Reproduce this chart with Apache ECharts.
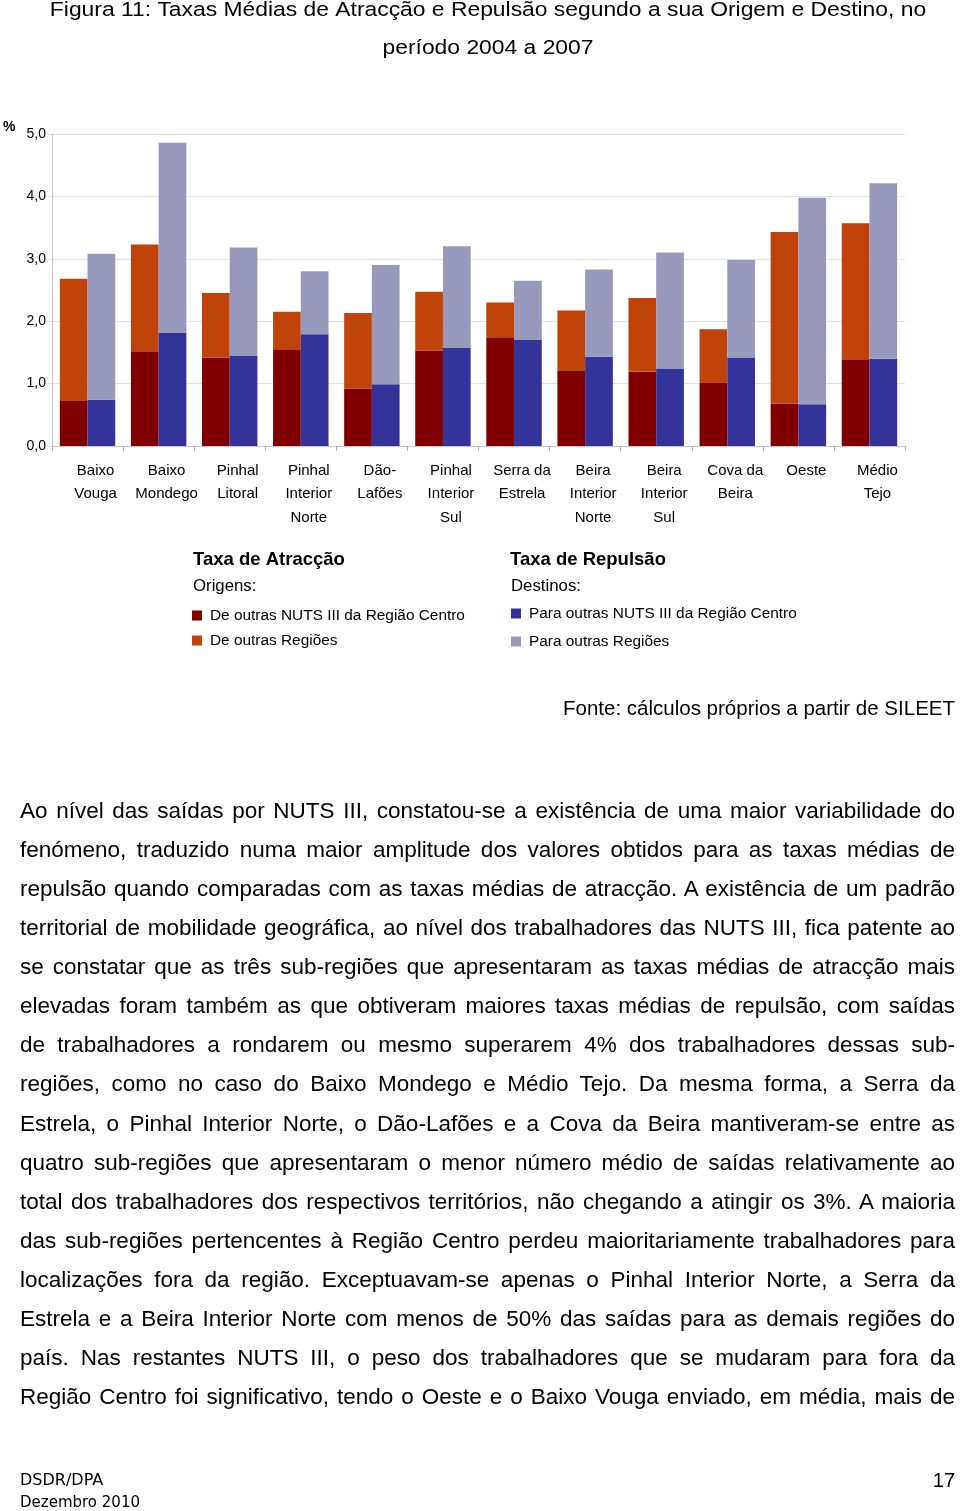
<!DOCTYPE html>
<html>
<head>
<meta charset="utf-8">
<script src="https://cdn.jsdelivr.net/npm/echarts@6/dist/echarts.min.js"></script>
<style>
  html, body { margin: 0; padding: 0; background: #fff; }
  #wrap { position: relative; width: 960px; height: 1511px; }
  #chart { position: absolute; left: 0; top: 0; width: 960px; height: 1511px; }
  .pl { position: absolute; left: 20px; width: 935px; height: 39px; line-height: 39px;
        font-family: "Liberation Sans", Arial, sans-serif; font-size: 22.5px; color: #000;
        white-space: nowrap; text-align: justify; text-align-last: justify; }
</style>
</head>
<body>
<div id="wrap">
  <div id="chart"></div>
  <div id="para"></div>
</div>
<script>
// ---- Data ----
const categories = ['Baixo\nVouga','Baixo\nMondego','Pinhal\nLitoral','Pinhal\nInterior\nNorte','Dão-\nLafões','Pinhal\nInterior\nSul','Serra da\nEstrela','Beira\nInterior\nNorte','Beira\nInterior\nSul','Cova da\nBeira','Oeste','Médio\nTejo'];
const atrCentro = [0.72,1.52,1.42,1.54,0.92,1.53,1.73,1.20,1.19,1.01,0.68,1.39];
const atrOutras = [1.96,1.71,1.03,0.61,1.21,0.94,0.57,0.97,1.18,0.86,2.75,2.18];
const repCentro = [0.74,1.82,1.45,1.79,0.99,1.57,1.70,1.43,1.24,1.42,0.67,1.40];
const repOutras = [2.34,3.04,1.73,1.01,1.91,1.63,0.95,1.40,1.86,1.56,3.31,2.81];
const seriesNames = ['De outras NUTS III da Região Centro','De outras Regiões','Para outras NUTS III da Região Centro','Para outras Regiões'];
const yTicks = [0,1,2,3,4,5];

const titleLines = ['Figura 11: Taxas Médias de Atracção e Repulsão segundo a sua Origem e Destino, no','período 2004 a 2007'];
const paragraphLines = [
 'Ao nível das saídas por NUTS III, constatou-se a existência de uma maior variabilidade do',
 'fenómeno, traduzido numa maior amplitude dos valores obtidos para as taxas médias de',
 'repulsão quando comparadas com as taxas médias de atracção. A existência de um padrão',
 'territorial de mobilidade geográfica, ao nível dos trabalhadores das NUTS III, fica patente ao',
 'se constatar que as três sub-regiões que apresentaram as taxas médias de atracção mais',
 'elevadas foram também as que obtiveram maiores taxas médias de repulsão, com saídas',
 'de trabalhadores a rondarem ou mesmo superarem 4% dos trabalhadores dessas sub-',
 'regiões, como no caso do Baixo Mondego e Médio Tejo. Da mesma forma, a Serra da',
 'Estrela, o Pinhal Interior Norte, o Dão-Lafões e a Cova da Beira mantiveram-se entre as',
 'quatro sub-regiões que apresentaram o menor número médio de saídas relativamente ao',
 'total dos trabalhadores dos respectivos territórios, não chegando a atingir os 3%. A maioria',
 'das sub-regiões pertencentes à Região Centro perdeu maioritariamente trabalhadores para',
 'localizações fora da região. Exceptuavam-se apenas o Pinhal Interior Norte, a Serra da',
 'Estrela e a Beira Interior Norte com menos de 50% das saídas para as demais regiões do',
 'país. Nas restantes NUTS III, o peso dos trabalhadores que se mudaram para fora da',
 'Região Centro foi significativo, tendo o Oeste e o Baixo Vouga enviado, em média, mais de'
];

// ---- Paragraph (HTML text) ----
const para = document.getElementById('para');
paragraphLines.forEach((t, i) => {
  const d = document.createElement('div');
  d.className = 'pl';
  d.style.top = (810 + i * 39.13 - 19.5) + 'px';
  d.textContent = t;
  para.appendChild(d);
});

// ---- Chart ----
const FONT = '"Liberation Sans", Arial, sans-serif';
const colors = ['#800000', '#c0430a', '#333399', '#9999bb'];
const chart = echarts.init(document.getElementById('chart'), null, { renderer: 'canvas' });

function barSeries(name, data, stack, color) {
  return {
    name, type: 'bar', stack, data,
    barGap: '0%', barCategoryGap: '22%',
    itemStyle: { color },
    emphasis: { disabled: true },
    animation: false
  };
}

const option = {
  animation: false,
  textStyle: { fontFamily: FONT },
  grid: { left: 52, right: 55, top: 134, bottom: 1065, containLabel: false },
  xAxis: {
    type: 'category',
    data: categories,
    axisLine: { show: true, lineStyle: { color: '#c8c8c8', width: 1 } },
    axisTick: { show: true, length: 5, lineStyle: { color: '#b0b0b0' } },
    axisLabel: {
      interval: 0, margin: 13, color: '#000', fontSize: 15, lineHeight: 23.5,
      fontFamily: FONT, verticalAlign: 'top', padding: [0, 0, 0, 16]
    }
  },
  yAxis: {
    type: 'value', min: yTicks[0], max: yTicks[yTicks.length - 1], interval: 1,
    axisLine: { show: true, lineStyle: { color: '#c8c8c8' } },
    axisTick: { show: true, length: 9, lineStyle: { color: '#e2e2e2' } },
    splitLine: { show: true, lineStyle: { color: '#e2e2e2' } },
    axisLabel: {
      margin: 6, color: '#000', fontSize: 14, fontFamily: FONT,
      formatter: v => v.toFixed(1).replace('.', ',')
    }
  },
  legend: [
    {
      data: [seriesNames[0], seriesNames[1]],
      orient: 'vertical', left: 187, top: 603, itemWidth: 10, itemHeight: 10, itemGap: 10,
      icon: 'rect', selectedMode: false,
      textStyle: { fontSize: 15.4, color: '#000', fontFamily: FONT, padding: [0, 0, 0, 3] }
    },
    {
      data: [seriesNames[2], seriesNames[3]],
      orient: 'vertical', left: 506, top: 601, itemWidth: 10, itemHeight: 10, itemGap: 13,
      icon: 'rect', selectedMode: false,
      textStyle: { fontSize: 15.4, color: '#000', fontFamily: FONT, padding: [0, 0, 0, 3] }
    }
  ],
  series: [
    barSeries(seriesNames[0], atrCentro, 'atr', colors[0]),
    barSeries(seriesNames[1], atrOutras, 'atr', colors[1]),
    barSeries(seriesNames[2], repCentro, 'rep', colors[2]),
    barSeries(seriesNames[3], repOutras, 'rep', colors[3])
  ],
  graphic: [
    { type: 'text', x: 488, y: 10, scaleX: 1.115, style: { text: titleLines[0], font: '20.5px ' + FONT, fill: '#000', textAlign: 'center', textVerticalAlign: 'middle' } },
    { type: 'text', x: 488, y: 48, scaleX: 1.115, style: { text: titleLines[1], font: '20.5px ' + FONT, fill: '#000', textAlign: 'center', textVerticalAlign: 'middle' } },
    { type: 'text', x: 3, y: 127, style: { text: '%', font: 'bold 14px ' + FONT, fill: '#000', textAlign: 'left', textVerticalAlign: 'middle' } },
    { type: 'text', x: 193, y: 560, style: { text: 'Taxa de Atracção', font: 'bold 18.5px ' + FONT, fill: '#000', textAlign: 'left', textVerticalAlign: 'middle' } },
    { type: 'text', x: 193, y: 586, style: { text: 'Origens:', font: '16.8px ' + FONT, fill: '#000', textAlign: 'left', textVerticalAlign: 'middle' } },
    { type: 'text', x: 510, y: 560, style: { text: 'Taxa de Repulsão', font: 'bold 18.5px ' + FONT, fill: '#000', textAlign: 'left', textVerticalAlign: 'middle' } },
    { type: 'text', x: 511, y: 586, style: { text: 'Destinos:', font: '16.8px ' + FONT, fill: '#000', textAlign: 'left', textVerticalAlign: 'middle' } },
    { type: 'text', x: 955, y: 709, style: { text: 'Fonte: cálculos próprios a partir de SILEET', font: '20.5px ' + FONT, fill: '#000', textAlign: 'right', textVerticalAlign: 'middle' } },
    { type: 'text', x: 20, y: 1481, style: { text: 'DSDR/DPA', font: '16px "Comic Sans MS", "DejaVu Sans", sans-serif', fill: '#000', textAlign: 'left', textVerticalAlign: 'middle' } },
    { type: 'text', x: 20, y: 1503, style: { text: 'Dezembro 2010', font: '15px "Comic Sans MS", "DejaVu Sans", sans-serif', fill: '#000', textAlign: 'left', textVerticalAlign: 'middle' } },
    { type: 'text', x: 955, y: 1481, style: { text: '17', font: '20px ' + FONT, fill: '#000', textAlign: 'right', textVerticalAlign: 'middle' } }
  ]
};
chart.setOption(option);
</script>
</body>
</html>
